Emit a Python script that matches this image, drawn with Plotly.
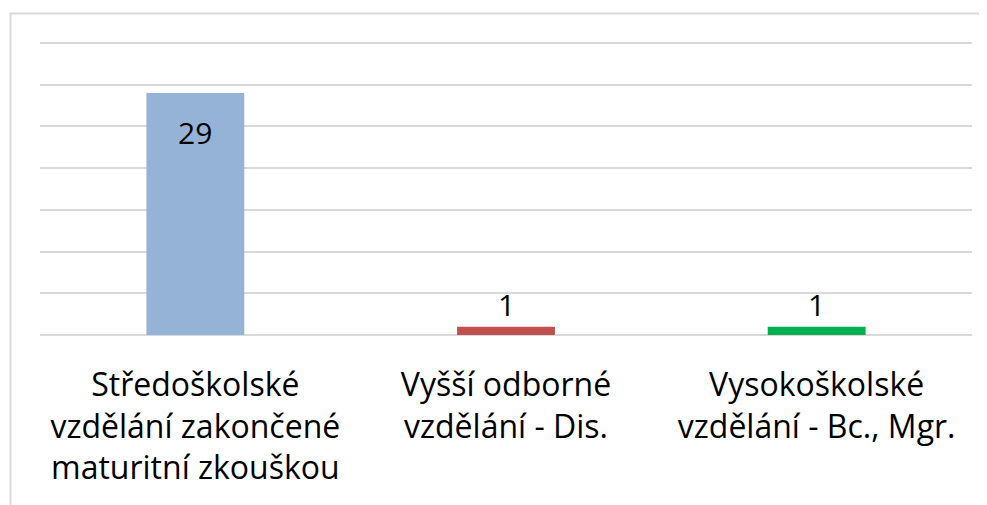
import plotly.graph_objects as go

categories = ["Středoškolské<br>vzdělání zakončené<br>maturitní zkouškou",
              "Vyšší odborné<br>vzdělání - Dis.",
              "Vysokoškolské<br>vzdělání - Bc., Mgr."]
values = [29, 1, 1]
colors = ["#95B3D7", "#C0504D", "#00B050"]

FONT = "Open Sans"
# page body has an 8px margin, so the figure is drawn 8px in from the window corner
OFF = 8
W, H = 987 - OFF, 505 - OFF
L, R, T, B = 40 - OFF, 15, 30, 170
PX_PER_UNIT = 292 / 35
pw = W - L - R
ph = H - T - B
YMAX = ph / PX_PER_UNIT

fig = go.Figure()
fig.add_trace(go.Bar(x=categories, y=values, marker=dict(color=colors, line=dict(width=0)),
                     width=0.315, hoverinfo="skip"))

for c, v in zip(categories, values):
    inside = v > 5
    fig.add_annotation(x=c, y=v, text=str(v), showarrow=False, yanchor="middle",
                       yshift=-39 if inside else 22,
                       font=dict(family=FONT, size=30, color="#000000"))

fig.add_shape(type="rect", xref="paper", yref="paper",
              x0=(10.5 - OFF - L) / pw, x1=(W + 10 - L) / pw,
              y0=(H - B - 530) / ph, y1=(H - B - (13.5 - OFF)) / ph,
              line=dict(color="#D9D9D9", width=2), fillcolor="rgba(0,0,0,0)", layer="below")

fig.update_layout(
    width=W, height=H, margin=dict(l=L, r=R, t=T, b=B, autoexpand=False),
    paper_bgcolor="white", plot_bgcolor="white", showlegend=False,
    font=dict(family=FONT, size=32, color="#000000"),
    bargap=0.685,
)
fig.update_xaxes(showline=False, ticks="", ticklabelstandoff=28, automargin=False,
                 tickfont=dict(family=FONT, size=32, color="#000000"))
fig.update_yaxes(range=[0, YMAX], tick0=0, dtick=5, showticklabels=False, showgrid=True,
                 gridcolor="#D9D9D9", gridwidth=2, zeroline=True, zerolinecolor="#D9D9D9",
                 zerolinewidth=2, showline=False, automargin=False)

fig.write_html("out.html")
